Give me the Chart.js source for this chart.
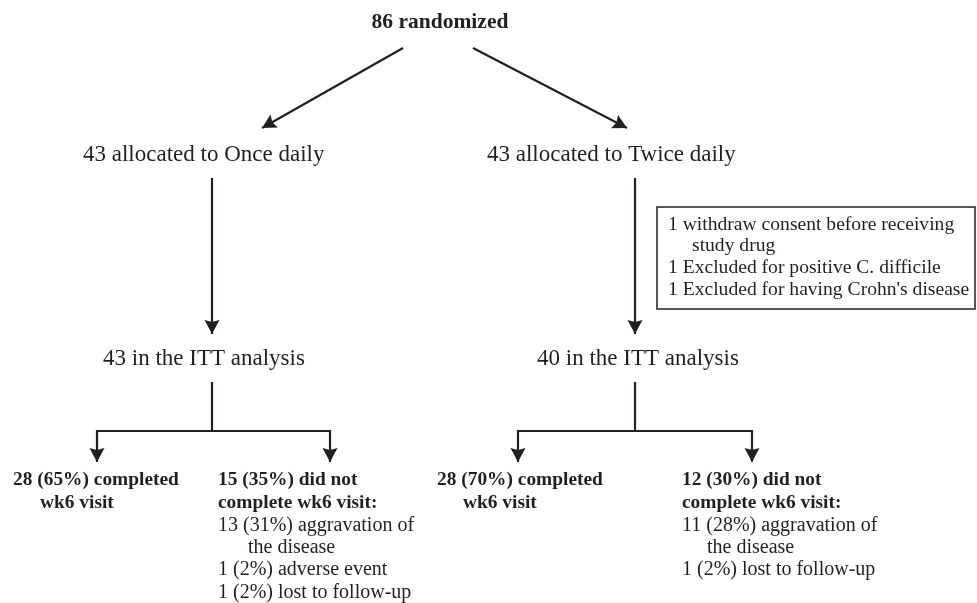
<!DOCTYPE html>
<html>
<head>
<meta charset="utf-8">
<script src="https://cdn.jsdelivr.net/npm/chart.js@4/dist/chart.umd.min.js"></script>
<style>
html,body{margin:0;padding:0;background:#ffffff;}
#c{display:block;}
</style>
</head>
<body>
<canvas id="c" width="977" height="603"></canvas>
<script>
// ---------------- DATA ----------------
const randomized = 86;
const arms = ['Once daily', 'Twice daily'];
const allocated = [43, 43];
const ittAnalysis = [43, 40];
const completedN = [28, 28];
const completedPct = [65, 70];
const notCompletedN = [15, 12];
const notCompletedPct = [35, 30];
const reasonsOnce = [
  [13, 31, 'aggravation of', 'the disease'],
  [1, 2, 'adverse event', null],
  [1, 2, 'lost to follow-up', null]
];
const reasonsTwice = [
  [11, 28, 'aggravation of', 'the disease'],
  [1, 2, 'lost to follow-up', null]
];
const exclusionsTwice = [
  [1, 'withdraw consent before receiving', 'study drug'],
  [1, 'Excluded for positive C. difficile', null],
  [1, "Excluded for having Crohn's disease", null]
];

// ---------------- LAYOUT (pixel-like units of the hidden scales) ----------------
const L = {
  top: {x: 440, y: 22},
  diagStart: [[403, 48], [473, 48]],
  diagEnd: [[262, 128], [627, 128]],
  armX: [212, 635],
  allocTextX: [83, 487],
  allocY: 155,
  vStartY: 178,
  vEndY: 334,
  ittTextX: [103, 537],
  ittY: 359,
  stemTopY: 382,
  barY: 431,
  branchX: [[97, 330], [518, 752]],
  tipY: 462,
  compX: [13, 437],
  compIndent: [40, 463],
  notX: [218, 682],
  notIndent: [248, 707],
  rowY: [480, 503, 526, 548, 570, 593],
  box: {x1: 657, y1: 207, x2: 975, y2: 309, tx: 668, indent: 692, rows: [225, 246, 268, 290]}
};
const INK = '#231f20';
const FONT = '"Liberation Serif", "Times New Roman", serif';
const FS_TOP = 21.5, FS_MAIN = 23, FS_SMALL = 20, FS_BOLD = 19.4, FS_BOX = 19.6;

// ---------------- connector datasets ----------------
const segs = [];
for (let i = 0; i < 2; i++) {
  segs.push([{x: L.diagStart[i][0], y: L.diagStart[i][1]}, {x: L.diagEnd[i][0], y: L.diagEnd[i][1]}]);
  segs.push([{x: L.armX[i], y: L.vStartY}, {x: L.armX[i], y: L.vEndY}]);
  segs.push([{x: L.armX[i], y: L.stemTopY}, {x: L.armX[i], y: L.barY}]);
  segs.push([
    {x: L.branchX[i][0], y: L.tipY}, {x: L.branchX[i][0], y: L.barY},
    {x: L.branchX[i][1], y: L.barY}, {x: L.branchX[i][1], y: L.tipY}
  ]);
}
const arrowTips = [];
for (let i = 0; i < 2; i++) {
  arrowTips.push({from: L.diagStart[i], to: L.diagEnd[i]});
  arrowTips.push({from: [L.armX[i], L.vStartY], to: [L.armX[i], L.vEndY]});
  arrowTips.push({from: [L.branchX[i][0], L.barY], to: [L.branchX[i][0], L.tipY]});
  arrowTips.push({from: [L.branchX[i][1], L.barY], to: [L.branchX[i][1], L.tipY]});
}

const datasets = segs.map(s => ({
  data: s, showLine: true, borderColor: INK, borderWidth: 2.2,
  pointRadius: 0, fill: false, tension: 0, borderCapStyle: 'butt', borderJoinStyle: 'miter'
}));

const flowPlugin = {
  id: 'flow',
  afterDatasetsDraw(chart) {
    const ctx = chart.ctx, xs = chart.scales.x, ys = chart.scales.y;
    const px = v => xs.getPixelForValue(v), py = v => ys.getPixelForValue(v);
    ctx.save();
    // arrowheads
    ctx.fillStyle = INK;
    arrowTips.forEach(a => {
      const x1 = px(a.from[0]), y1 = py(a.from[1]), x2 = px(a.to[0]), y2 = py(a.to[1]);
      const ang = Math.atan2(y2 - y1, x2 - x1);
      const len = 14, hw = 7.5, c = Math.cos(ang), s = Math.sin(ang);
      ctx.beginPath();
      ctx.moveTo(x2, y2);
      ctx.lineTo(x2 - len * c + hw * s, y2 - len * s - hw * c);
      ctx.lineTo(x2 - len * 0.85 * c, y2 - len * 0.85 * s);
      ctx.lineTo(x2 - len * c - hw * s, y2 - len * s + hw * c);
      ctx.closePath();
      ctx.fill();
    });
    // box
    const b = L.box;
    ctx.strokeStyle = INK; ctx.lineWidth = 1.5;
    ctx.strokeRect(px(b.x1), py(b.y1), px(b.x2) - px(b.x1), py(b.y2) - py(b.y1));
    // texts
    ctx.fillStyle = INK;
    ctx.textBaseline = 'middle';
    const txt = (s, x, y, size, bold, align) => {
      ctx.font = (bold ? 'bold ' : '') + size + 'px ' + FONT;
      ctx.textAlign = align || 'left';
      ctx.fillText(s, px(x), py(y));
    };
    txt(randomized + ' randomized', L.top.x, L.top.y, FS_TOP, true, 'center');
    for (let i = 0; i < 2; i++) {
      txt(allocated[i] + ' allocated to ' + arms[i], L.allocTextX[i], L.allocY, FS_MAIN);
      txt(ittAnalysis[i] + ' in the ITT analysis', L.ittTextX[i], L.ittY, FS_MAIN);
      txt(completedN[i] + ' (' + completedPct[i] + '%) completed', L.compX[i], L.rowY[0], FS_BOLD, true);
      txt('wk6 visit', L.compIndent[i], L.rowY[1], FS_BOLD, true);
      txt(notCompletedN[i] + ' (' + notCompletedPct[i] + '%) did not', L.notX[i], L.rowY[0], FS_BOLD, true);
      txt('complete wk6 visit:', L.notX[i], L.rowY[1], FS_BOLD, true);
      const reasons = i === 0 ? reasonsOnce : reasonsTwice;
      let r = 2;
      reasons.forEach(rs => {
        txt(rs[0] + ' (' + rs[1] + '%) ' + rs[2], L.notX[i], L.rowY[r++], FS_SMALL);
        if (rs[3]) txt(rs[3], L.notIndent[i], L.rowY[r++], FS_SMALL);
      });
    }
    let k = 0;
    exclusionsTwice.forEach(e => {
      txt(e[0] + ' ' + e[1], b.tx, b.rows[k++], FS_BOX);
      if (e[2]) txt(e[2], b.indent, b.rows[k++], FS_BOX);
    });
    ctx.restore();
  }
};

new Chart(document.getElementById('c'), {
  type: 'scatter',
  data: {datasets},
  options: {
    responsive: false,
    animation: false,
    events: [],
    layout: {padding: 0},
    plugins: {legend: {display: false}, tooltip: {enabled: false}, title: {display: false}},
    scales: {
      x: {type: 'linear', min: 0, max: 977, display: false},
      y: {type: 'linear', min: 0, max: 603, reverse: true, display: false}
    }
  },
  plugins: [flowPlugin]
});
</script>
</body>
</html>
